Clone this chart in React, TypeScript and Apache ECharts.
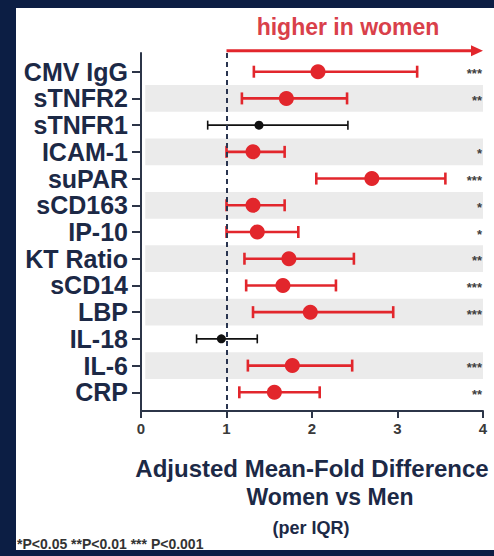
import React, { useEffect, useRef } from "react";
import * as echarts from "echarts";

const markers = ["CMV IgG", "sTNFR2", "sTNFR1", "ICAM-1", "suPAR", "sCD163", "IP-10", "KT Ratio", "sCD14", "LBP", "IL-18", "IL-6", "CRP"];
const means = [2.07, 1.7, 1.38, 1.31, 2.7, 1.31, 1.36, 1.73, 1.66, 1.98, 0.94, 1.77, 1.56];
const lows = [1.32, 1.18, 0.78, 1.0, 2.05, 1.0, 1.0, 1.21, 1.23, 1.31, 0.65, 1.25, 1.15];
const highs = [3.23, 2.41, 2.42, 1.68, 3.56, 1.68, 1.84, 2.49, 2.28, 2.95, 1.36, 2.47, 2.09];
const significance = ["***", "**", "", "*", "***", "*", "*", "**", "***", "***", "", "***", "**"];
const shadedRows = [1, 3, 5, 7, 9, 11];
const xTicks = [0, 1, 2, 3, 4];
const rowIndex = markers.map((_, i) => i);

const FONT = "'Liberation Sans', Arial, Helvetica, sans-serif";
const NAVY = "#1c2946";
const RED = "#e2262c";
const AXIS = "#2c3548";

export default function App() {
  const ref = useRef<HTMLDivElement>(null);
  useEffect(() => {
    document.body.style.margin = "0";
    const chart = echarts.init(ref.current!, null, { renderer: "svg" });
    const data = markers.map((_, i) => [i, means[i], lows[i], highs[i]]);
    chart.setOption({
      animation: false,
      backgroundColor: "transparent",
      grid: { left: 141, right: 11, top: 53, bottom: 145, containLabel: false },
      xAxis: {
        type: "value",
        min: xTicks[0],
        max: xTicks[xTicks.length - 1],
        interval: 1,
        splitLine: { show: false },
        axisLine: { show: true, onZero: false, lineStyle: { color: AXIS, width: 2 } },
        axisTick: { show: true, length: 7, lineStyle: { color: AXIS, width: 2 } },
        axisLabel: { fontFamily: FONT, fontWeight: "bold", fontSize: 15, color: "#3a3a3a", margin: 10 },
      },
      yAxis: {
        type: "value",
        inverse: true,
        min: -0.7,
        max: 12.7,
        splitLine: { show: false },
        axisLine: { show: true, onZero: false, lineStyle: { color: AXIS, width: 2 } },
        axisTick: { show: true, length: 9, customValues: rowIndex, lineStyle: { color: AXIS, width: 2 } },
        axisLabel: {
          customValues: rowIndex,
          formatter: (v: number) => markers[Math.round(v)] ?? "",
          fontFamily: FONT,
          fontWeight: "bold",
          fontSize: 25,
          color: NAVY,
          margin: 13,
        },
      },
      series: [
        {
          type: "custom",
          name: "bands",
          silent: true,
          z: 1,
          data: shadedRows.map((i) => [i]),
          renderItem: (params: any, api: any) => {
            const i = api.value(0);
            const a = api.coord([0.05, i - 0.5]);
            const b = api.coord([4, i + 0.5]);
            return {
              type: "rect",
              shape: { x: a[0], y: a[1], width: b[0] - a[0], height: b[1] - a[1] },
              style: { fill: "#ebebeb" },
            };
          },
        },
        {
          type: "custom",
          name: "arrow",
          silent: true,
          z: 3,
          data: [[1, 4]],
          renderItem: (params: any, api: any) => {
            const s = api.coord([api.value(0), -0.78]);
            const e = api.coord([api.value(1), -0.78]);
            return {
              type: "group",
              children: [
                { type: "line", shape: { x1: s[0], y1: s[1], x2: e[0] - 8, y2: e[1] }, style: { stroke: RED, lineWidth: 3 } },
                {
                  type: "polygon",
                  shape: { points: [[e[0] - 12, e[1] - 5.5], [e[0], e[1]], [e[0] - 12, e[1] + 5.5]] },
                  style: { fill: RED },
                },
              ],
            };
          },
          markLine: {
            silent: true,
            symbol: "none",
            label: { show: false },
            lineStyle: { color: "#2a3550", width: 2, type: [5, 4] },
            data: [{ xAxis: 1 }],
          },
        },
        {
          type: "custom",
          name: "effects",
          z: 4,
          encode: { x: [1, 2, 3], y: 0 },
          data,
          renderItem: (params: any, api: any) => {
            const i = api.value(0);
            const pM = api.coord([api.value(1), i]);
            const pL = api.coord([api.value(2), i]);
            const pH = api.coord([api.value(3), i]);
            const sig = significance[i] !== "";
            const color = sig ? RED : "#111111";
            const lw = sig ? 2.6 : 1.6;
            const cap = sig ? 6 : 4.5;
            const r = sig ? 7.5 : 4.5;
            const star = api.coord([4, i]);
            return {
              type: "group",
              children: [
                { type: "line", shape: { x1: pL[0], y1: pL[1], x2: pH[0], y2: pH[1] }, style: { stroke: color, lineWidth: lw } },
                { type: "line", shape: { x1: pL[0], y1: pL[1] - cap, x2: pL[0], y2: pL[1] + cap }, style: { stroke: color, lineWidth: lw } },
                { type: "line", shape: { x1: pH[0], y1: pH[1] - cap, x2: pH[0], y2: pH[1] + cap }, style: { stroke: color, lineWidth: lw } },
                { type: "circle", shape: { cx: pM[0], cy: pM[1], r }, style: { fill: color } },
                {
                  type: "text",
                  x: star[0] - 1,
                  y: star[1] + 2,
                  style: {
                    text: significance[i],
                    align: "right",
                    verticalAlign: "middle",
                    font: `bold 13px ${FONT}`,
                    fill: "#404040",
                  },
                },
              ],
            };
          },
        },
      ],
      graphic: [
        {
          type: "text",
          x: 348,
          y: 27,
          style: { text: "higher in women", align: "center", verticalAlign: "middle", font: `bold 23px ${FONT}`, fill: "#d9404a" },
        },
        {
          type: "text",
          x: 312,
          y: 468,
          style: { text: "Adjusted Mean-Fold Difference", align: "center", verticalAlign: "middle", font: `bold 24px ${FONT}`, fill: NAVY },
        },
        {
          type: "text",
          x: 330,
          y: 497,
          style: { text: "Women vs Men", align: "center", verticalAlign: "middle", font: `bold 23px ${FONT}`, fill: NAVY },
        },
        {
          type: "text",
          x: 311,
          y: 528,
          style: { text: "(per IQR)", align: "center", verticalAlign: "middle", font: `bold 18px ${FONT}`, fill: NAVY },
        },
        {
          type: "text",
          x: 17,
          y: 544,
          style: { text: "*P<0.05 **P<0.01 *** P<0.001", align: "left", verticalAlign: "middle", font: `bold 14px ${FONT}`, fill: "#333333" },
        },
      ],
    });
    return () => chart.dispose();
  }, []);
  return (
    <div style={{ position: "relative", width: 494, height: 556, background: "#0c1e44", overflow: "hidden" }}>
      <div style={{ position: "absolute", left: 16, top: 8, width: 478, height: 542, background: "#ffffff" }} />
      <div ref={ref} style={{ position: "absolute", left: 0, top: 0, width: 494, height: 556 }} />
    </div>
  );
}
